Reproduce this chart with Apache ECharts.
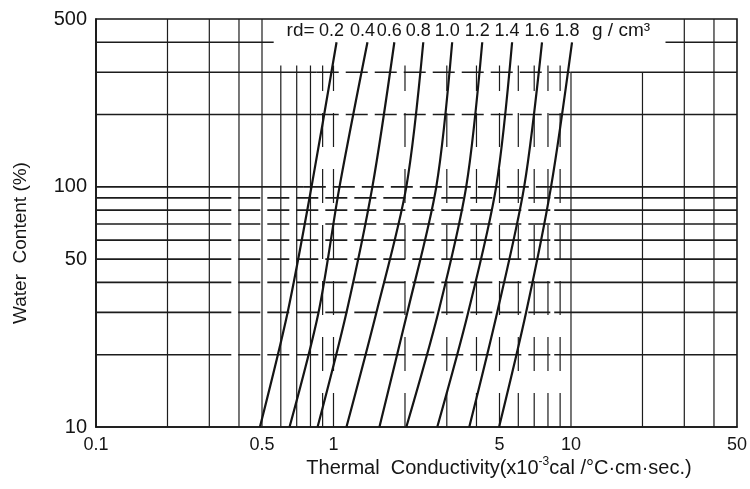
<!DOCTYPE html>
<html><head><meta charset="utf-8">
<script src="https://cdn.jsdelivr.net/npm/echarts@6/dist/echarts.min.js"></script>
<style>html,body{margin:0;padding:0;background:#fff}#c{width:750px;height:489px}</style>
</head><body><div id="c"></div>
<script>
// ---- data ----
const densityLabels = ['0.2','0.4','0.6','0.8','1.0','1.2','1.4','1.6','1.8'];
const waterContent = [10, 30, 100, 400];           // % (y values)
const k_rd02 = [0.49, 0.641, 0.808, 1.03];
const k_rd04 = [0.653, 0.865, 1.06, 1.39];
const k_rd06 = [0.857, 1.134, 1.458, 1.804];
const k_rd08 = [1.134, 1.516, 2.026, 2.388];
const k_rd10 = [1.561, 2.046, 2.709, 3.16];
const k_rd12 = [2.026, 2.762, 3.62, 4.23];
const k_rd14 = [2.735, 3.69, 4.84, 5.65];
const k_rd16 = [3.73, 4.89, 6.35, 7.55];
const k_rd18 = [4.98, 6.47, 8.24, 10.1];
const xTickLabels = [0.1, 0.5, 1, 5, 10, 50];
const yTickLabels = [10, 50, 100, 500];
const xGridFull = [0.2, 0.3, 0.4, 0.5, 30, 40];
const xGridMid = [0.6, 0.7, 0.8];
const xGridDashed = [0.9, 1, 2, 3, 4, 5, 6, 7, 8, 9];
const xGridRight = [10, 20];
const yGridLow = [20, 30, 40, 50, 60, 70, 80, 90];
const yGridHundred = [100];
const yGridHigh = [200, 300];
const yGridTop = [400];

const curves = [k_rd02,k_rd04,k_rd06,k_rd08,k_rd10,k_rd12,k_rd14,k_rd16,k_rd18];
const FONT = '"Liberation Sans", Arial, sans-serif';
const INK = '#151515';
const X0 = 0.1, X1 = 50, Y0 = 10, Y1 = 500;

// grid segments [x1,y1,x2,y2,dashType,width]
const segs = [];
xGridFull.forEach(x => segs.push([x, Y0, x, Y1, 0, 1.2]));
xGridMid.forEach(x => segs.push([x, Y0, x, 320, 0, 1.2]));
xGridDashed.forEach(x => segs.push([x, Y0, x, 320, 2, 1.2]));
xGridRight.forEach(x => segs.push([x, Y0, x, 300, 0, 1.2]));
yGridLow.forEach(y => { segs.push([X0, y, 0.3, y, 0, 1.6]); segs.push([0.3, y, 8.5, y, 1, 1.6]); segs.push([8.5, y, X1, y, 0, 1.6]); });
yGridHundred.forEach(y => { segs.push([X0, y, 0.75, y, 0, 1.6]); segs.push([0.75, y, 8.5, y, 1, 1.6]); segs.push([8.5, y, X1, y, 0, 1.6]); });
yGridHigh.forEach(y => { segs.push([X0, y, 0.85, y, 0, 1.6]); segs.push([0.85, y, 10, y, 1, 1.6]); segs.push([10, y, X1, y, 0, 1.6]); });
yGridTop.forEach(y => { segs.push([X0, y, 0.56, y, 0, 1.6]); segs.push([25, y, X1, y, 0, 1.6]); });

const chart = echarts.init(document.getElementById('c'));
const series = [{
  type: 'custom', silent: true, clip: true, animation: false,
  data: segs, encode: { x: [0, 2], y: [1, 3] },
  renderItem(params, api) {
    const p1 = api.coord([api.value(0), api.value(1)]);
    const p2 = api.coord([api.value(2), api.value(3)]);
    const d = api.value(4);
    return { type: 'line', shape: { x1: p1[0], y1: p1[1], x2: p2[0], y2: p2[1] },
      style: { stroke: '#1c1c1c', lineWidth: api.value(5), lineDash: d === 1 ? [22, 7] : (d === 2 ? [34, 22] : null) } };
  }
}];
curves.forEach((k, i) => series.push({
  type: 'line', name: densityLabels[i], smooth: 0.3, showSymbol: false, animation: false,
  lineStyle: { color: INK, width: 2.2 }, silent: true,
  data: waterContent.map((w, j) => [k[j], w])
}));

chart.setOption({
  backgroundColor: '#fff',
  animation: false,
  grid: { left: 96, right: 12, top: 19, bottom: 62, show: true, borderColor: INK, borderWidth: 1.6 },
  xAxis: { type: 'log', logBase: 10, min: X0, max: X1,
    axisLine: { show: true, lineStyle: { color: INK, width: 1.6 } },
    axisTick: { show: false }, splitLine: { show: false }, minorSplitLine: { show: false },
    axisLabel: { customValues: xTickLabels, color: INK, fontFamily: FONT, fontSize: 18, margin: 9,
      formatter: v => String(+(+v).toPrecision(3)) } },
  yAxis: { type: 'log', logBase: 10, min: Y0, max: Y1,
    axisLine: { show: true, lineStyle: { color: INK, width: 1.6 } },
    axisTick: { show: false }, splitLine: { show: false },
    axisLabel: { customValues: yTickLabels, color: INK, fontFamily: FONT, fontSize: 20, margin: 9,
      formatter: v => String(Math.round(v)) } },
  series
});

// labels above curves
const g = [];
let firstLeft = null, lastRight = null;
curves.forEach((k, i) => {
  const p = chart.convertToPixel({ seriesIndex: i + 1 }, [k[k.length - 1], waterContent[waterContent.length - 1]]);
  const cx = p[0] - 5;
  if (i === 0) firstLeft = cx - 13;
  if (i === curves.length - 1) lastRight = cx + 13;
  g.push({ type: 'text', x: cx, y: 31, style: { text: densityLabels[i], fill: INK, font: '18px ' + FONT, align: 'center', verticalAlign: 'middle' } });
});
g.push({ type: 'text', x: firstLeft - 4, y: 31, style: { text: 'rd=', fill: INK, font: '19px ' + FONT, align: 'right', verticalAlign: 'middle' } });
g.push({ type: 'text', x: lastRight + 12, y: 31, style: { text: 'g / cm³', fill: INK, font: '19px ' + FONT, align: 'left', verticalAlign: 'middle' } });
g.push({ type: 'text', x: 499, y: 468, style: {
  text: '{t|Thermal  Conductivity(x10}{s|-3}{t|cal /°C·cm·sec.)}', align: 'center', verticalAlign: 'middle',
  rich: { t: { fill: INK, font: '20px ' + FONT }, s: { fill: INK, font: '12px ' + FONT, verticalAlign: 'top', padding: [0, 0, 12, 0] } } } });
g.push({ type: 'text', x: 21, y: 243, rotation: Math.PI / 2, style: {
  text: 'Water  Content (%)', fill: INK, font: '19px ' + FONT, align: 'center', verticalAlign: 'middle' } });
chart.setOption({ graphic: g });
</script></body></html>
